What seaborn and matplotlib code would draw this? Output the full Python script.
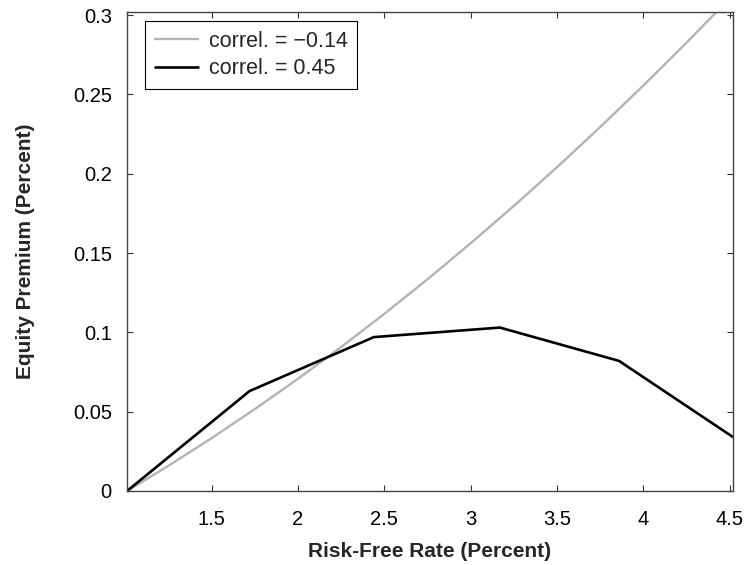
import matplotlib
matplotlib.use("Agg")
import matplotlib.pyplot as plt
import seaborn as sns
import pandas as pd
from matplotlib.ticker import FuncFormatter

# Data
gray_x = [1.01, 1.25, 1.5, 1.75, 2.0, 2.25, 2.5, 2.75, 3.0, 3.25, 3.5, 3.75, 4.0, 4.25, 4.5, 4.52]
gray_y = [0.0, 0.0159, 0.0333, 0.0516, 0.0707, 0.0907, 0.1116, 0.1334, 0.1561,
          0.1796, 0.2040, 0.2293, 0.2555, 0.2825, 0.3104, 0.3126]
black_x = [1.01, 1.72, 2.44, 3.17, 3.86, 4.52]
black_y = [0.0, 0.063, 0.097, 0.103, 0.082, 0.034]
labels = ["correl. = \u22120.14", "correl. = 0.45"]
x_ticks = [1.5, 2, 2.5, 3, 3.5, 4, 4.5]
y_ticks = [0, 0.05, 0.1, 0.15, 0.2, 0.25, 0.3]

sns.set_style("white")
plt.rcParams['font.family'] = ['Liberation Sans', 'DejaVu Sans']

df_gray = pd.DataFrame({"x": gray_x, "y": gray_y})
df_black = pd.DataFrame({"x": black_x, "y": black_y})

fig = plt.figure(figsize=(7.49, 5.65), dpi=100)
ax = fig.add_axes([0.1696, 0.131, 0.809, 0.848])

sns.lineplot(data=df_gray, x="x", y="y", ax=ax, color="#b3b3b3", linewidth=1.7,
             label=labels[0], estimator=None, sort=False)
sns.lineplot(data=df_black, x="x", y="y", ax=ax, color="black", linewidth=1.9,
             label=labels[1], estimator=None, sort=False)

ax.set_xlim(1.01, 4.52)
ax.set_ylim(0, 0.302)
ax.set_xticks(x_ticks)
ax.set_yticks(y_ticks)
ax.xaxis.set_major_formatter(FuncFormatter(lambda v, p: f"{v:g}"))
ax.yaxis.set_major_formatter(FuncFormatter(lambda v, p: f"{v:g}"))

ax.tick_params(direction="in", length=4, width=0.8, color="#333333",
               top=True, right=True, bottom=True, left=True,
               labelsize=14.5, labelcolor="black")
ax.tick_params(axis="y", pad=11)
ax.tick_params(axis="x", pad=14)
for s in ax.spines.values():
    s.set_visible(True)
    s.set_color("#444444")
    s.set_linewidth(1.0)

ax.set_xlabel("Risk-Free Rate (Percent)", fontsize=15, fontweight="bold", labelpad=9)
ax.set_ylabel("Equity Premium (Percent)", fontsize=15, fontweight="bold", labelpad=27)

leg = ax.legend(loc="upper left", bbox_to_anchor=(0.0297, 0.981), borderaxespad=0,
                fontsize=15.5, frameon=True, fancybox=False, edgecolor="black",
                framealpha=1, handlelength=2.0, handletextpad=0.5,
                borderpad=0.45, labelspacing=0.3)
leg.get_frame().set_linewidth(0.8)

fig.savefig("out.png", dpi=100)
